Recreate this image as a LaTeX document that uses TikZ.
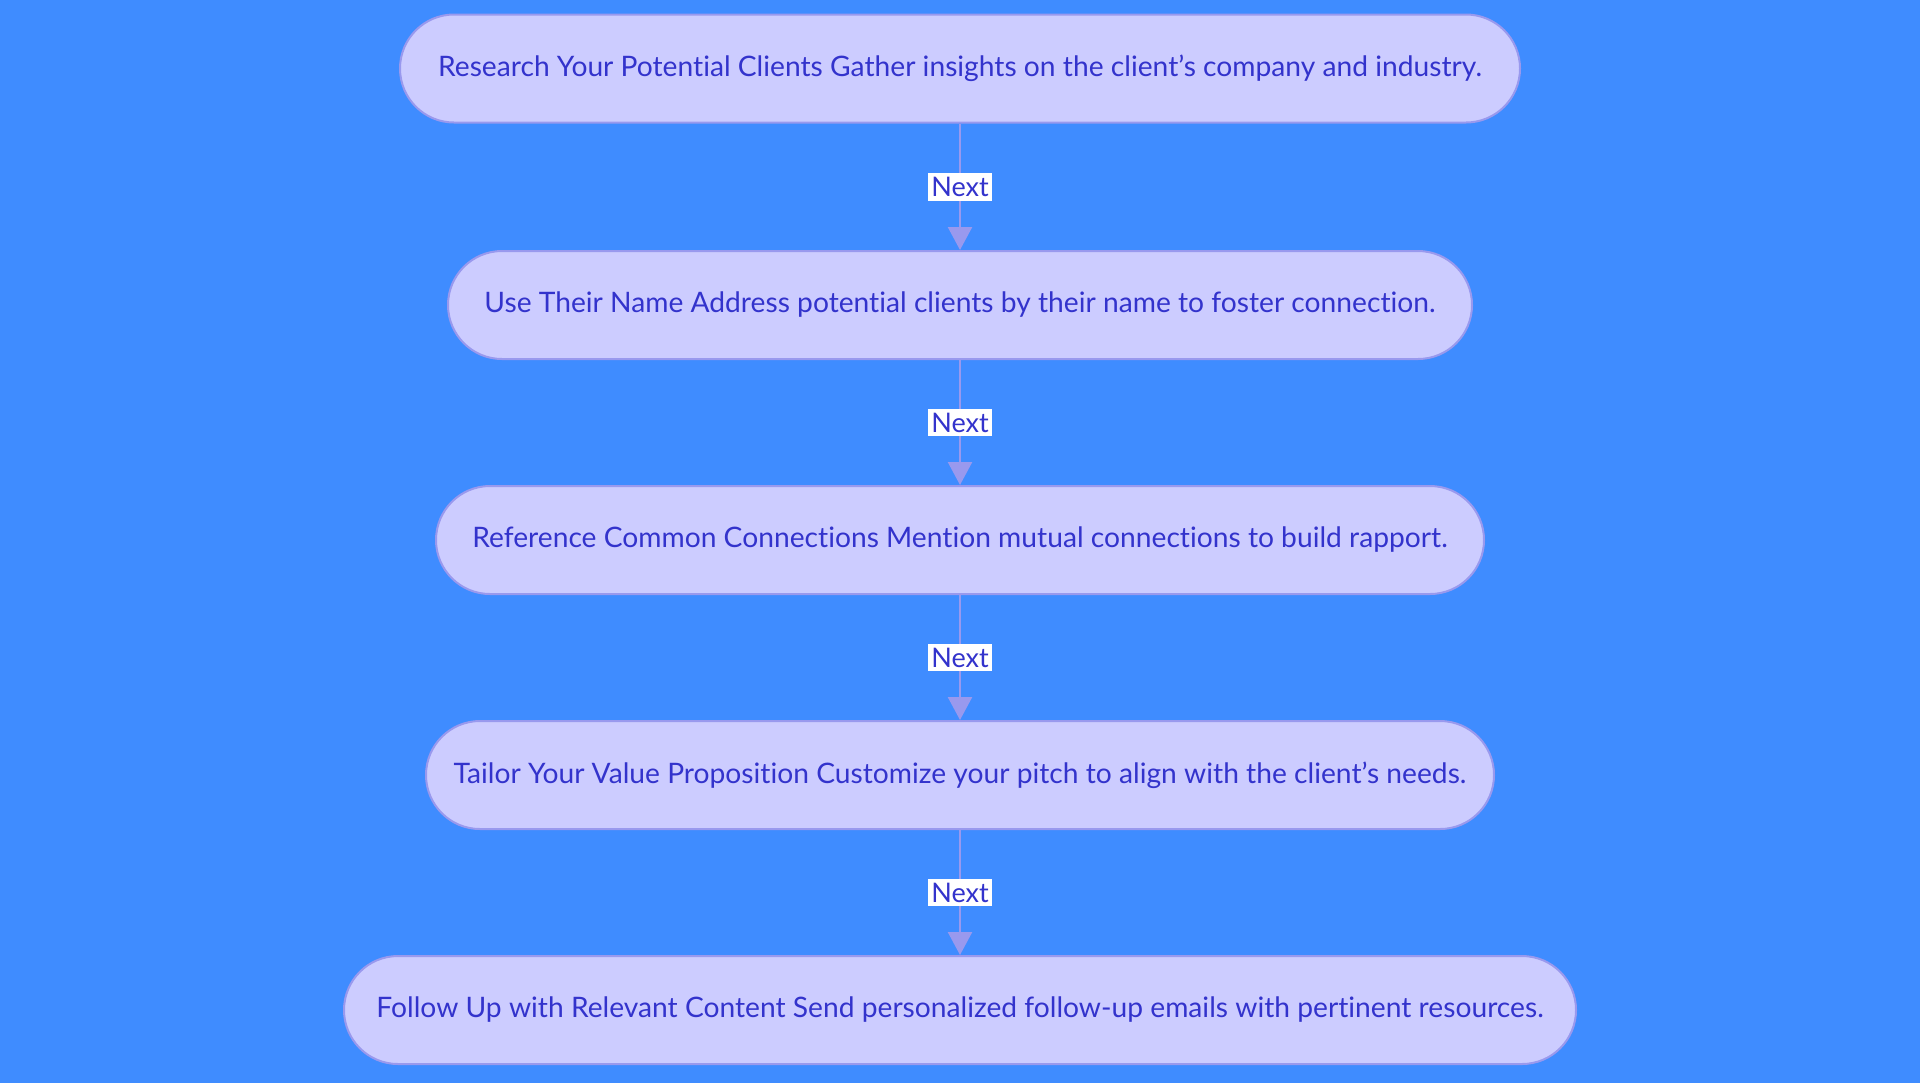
\documentclass[tikz,border=0pt]{standalone}
\usepackage{fontspec}
\setmainfont{Lato}[Ligatures=NoCommon]
\usepackage{tikz}
\usetikzlibrary{arrows.meta,shapes}
\definecolor{bgblue}{RGB}{63,140,255}
\definecolor{stepfill}{RGB}{204,204,255}
\definecolor{stepline}{RGB}{153,153,238}
\definecolor{steptext}{RGB}{51,51,204}
\tikzstyle{step box}=[draw=stepline, fill=stepfill, text=steptext, line width=1pt, rounded corners=27pt, minimum height=54pt, inner xsep=0pt, font=\fontsize{14.1}{17}\selectfont]
\tikzstyle{next edge} = [draw=stepline, line width=1.2pt, -{Triangle[width=12pt,length=11.5pt]}]
\tikzstyle{next label} = [fill=white, text=steptext, inner xsep=1.5pt, inner ysep=2pt, font=\fontsize{13.5}{16}\selectfont]

\begin{document}
\begin{tikzpicture}
\fill[bgblue] (0,0) rectangle (960pt,-541.5pt);
\useasboundingbox (0,0) rectangle (960pt,-541.5pt);
% First we draw the steps

\foreach \pos/\label/\boxlen/\name in {
	{(480pt,-34.25pt)/research/560pt/Research Your Potential Clients Gather insights on the client’s company and industry.},
	{(480pt,-152.5pt)/name/512pt/Use Their Name Address potential clients by their name to foster connection.},
	{(480pt,-270pt)/common/524pt/Reference Common Connections Mention mutual connections to build rapport.},
	{(480pt,-387.5pt)/tailor/534pt/Tailor Your Value Proposition Customize your pitch to align with the client’s needs.},
	{(480pt,-505pt)/follow/616pt/Follow Up with Relevant Content Send personalized follow-up emails with pertinent resources.}}
\node[step box, minimum width=\boxlen] (\label) at \pos {\name};

% Connect steps with arrows and draw labels
\foreach \source/ \dest in {
	research/name,
	name/common,
	common/tailor,
	tailor/follow}
\path[next edge] (\source) -- node[next label] {Next} (\dest);

\end{tikzpicture}
\end{document}
